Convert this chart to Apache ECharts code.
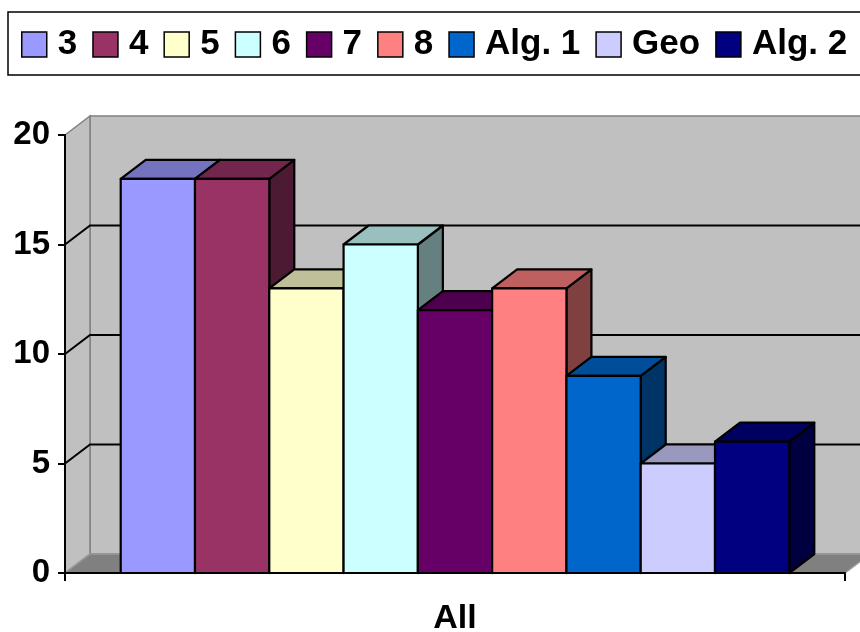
<!DOCTYPE html>
<html>
<head>
<meta charset="utf-8">
<script src="https://cdn.jsdelivr.net/npm/echarts@6/dist/echarts.min.js"></script>
<style>
  html, body { margin: 0; padding: 0; background: #ffffff; }
  #chart { width: 860px; height: 632px; }
</style>
</head>
<body>
<div id="chart"></div>
<script>
// Categories, series and their values
const categories = ['All'];
const seriesNames = ['3', '4', '5', '6', '7', '8', 'Alg. 1', 'Geo', 'Alg. 2'];
const seriesValues = [18, 18, 13, 15, 12, 13, 9, 5, 6];
const seriesColors = ['#9999FF', '#993366', '#FFFFCC', '#CCFFFF', '#660066', '#FF8080', '#0066CC', '#CCCCFF', '#000080'];
const yTicks = [0, 5, 10, 15, 20];

// 3D look: depth offset of the back plane (pixels) and gap between bar groups
const DX = 25, DY = 19;
const GAP_RATIO = 1.5;
const FONT = '"Liberation Sans", Arial, sans-serif';

function shade(hex, k) {
  const n = parseInt(hex.slice(1), 16);
  const r = Math.round(((n >> 16) & 255) * k);
  const g = Math.round(((n >> 8) & 255) * k);
  const b = Math.round((n & 255) * k);
  return 'rgb(' + r + ',' + g + ',' + b + ')';
}

// Back wall, side wall, floor and the gridlines on the walls
function renderWalls(params, api) {
  const cs = params.coordSys;
  const x0 = cs.x, x1 = cs.x + cs.width;
  const yTop = cs.y, yBot = cs.y + cs.height;
  const wallStroke = { stroke: '#808080', lineWidth: 1.5 };
  const children = [
    { type: 'polygon', shape: { points: [[x0 + DX, yTop - DY], [x1 + DX, yTop - DY], [x1 + DX, yBot - DY], [x0 + DX, yBot - DY]] },
      style: Object.assign({ fill: '#C0C0C0' }, wallStroke) },
    { type: 'polygon', shape: { points: [[x0, yTop], [x0 + DX, yTop - DY], [x0 + DX, yBot - DY], [x0, yBot]] },
      style: Object.assign({ fill: '#C0C0C0' }, wallStroke) },
    { type: 'polygon', shape: { points: [[x0, yBot], [x1, yBot], [x1 + DX, yBot - DY], [x0 + DX, yBot - DY]] },
      style: { fill: '#808080', stroke: '#999999', lineWidth: 1.5 } }
  ];
  const lo = yTicks[0], hi = yTicks[yTicks.length - 1];
  yTicks.forEach(function (v) {
    if (v === lo || v === hi) return;
    const y = api.coord([0, v])[1];
    children.push({ type: 'polyline', shape: { points: [[x0, y], [x0 + DX, y - DY], [x1 + DX, y - DY]] },
      style: { stroke: '#000000', lineWidth: 2, fill: null } });
  });
  return { type: 'group', children: children };
}

// One 3D box per series, placed side by side inside the category band
function makeBarRenderer(i) {
  return function (params, api) {
    const top = api.coord([api.value(0), api.value(1)]);
    const base = api.coord([api.value(0), 0]);
    const band = api.size([1, 0])[0];
    const w = band / (seriesValues.length + GAP_RATIO);
    const left = top[0] - band / 2 + w * GAP_RATIO / 2 + w * i;
    const right = left + w;
    const yT = top[1], yB = base[1];
    const c = seriesColors[i];
    const edge = { stroke: '#000000', lineWidth: 2.2, lineJoin: 'round' };
    return {
      type: 'group',
      children: [
        { type: 'polygon', shape: { points: [[right, yT], [right + DX, yT - DY], [right + DX, yB - DY], [right, yB]] },
          style: Object.assign({ fill: shade(c, 0.5) }, edge) },
        { type: 'polygon', shape: { points: [[left, yT], [left + DX, yT - DY], [right + DX, yT - DY], [right, yT]] },
          style: Object.assign({ fill: shade(c, 0.75) }, edge) },
        { type: 'rect', shape: { x: left, y: yT, width: w, height: yB - yT },
          style: Object.assign({ fill: c }, edge) }
      ]
    };
  };
}

const series = [{
  type: 'custom',
  name: 'walls',
  renderItem: renderWalls,
  data: [[categories[0], 0]],
  encode: { x: 0, y: 1 },
  z: 1,
  silent: true
}];
seriesNames.forEach(function (name, i) {
  series.push({
    type: 'custom',
    name: name,
    renderItem: makeBarRenderer(i),
    data: [[categories[0], seriesValues[i]]],
    encode: { x: 0, y: 1 },
    itemStyle: { color: seriesColors[i] },
    clip: false,
    z: 2
  });
});

const chart = echarts.init(document.getElementById('chart'), null, { renderer: 'canvas' });
chart.setOption({
  animation: false,
  backgroundColor: '#ffffff',
  legend: {
    data: seriesNames,
    left: 8,
    top: 12,
    width: 1200,
    orient: 'horizontal',
    icon: 'rect',
    itemWidth: 25,
    itemHeight: 25,
    itemGap: 15,
    padding: [15, 30, 13, 13],
    borderColor: '#000000',
    borderWidth: 1.5,
    selectedMode: false,
    itemStyle: { borderColor: '#000000', borderWidth: 1.5 },
    textStyle: { fontFamily: FONT, fontWeight: 'bold', fontSize: 35, color: '#000000', padding: [3, 0, 0, 6] }
  },
  grid: { left: 65, right: 15, top: 135, bottom: 59, containLabel: false, outerBoundsMode: 'none' },
  xAxis: {
    type: 'category',
    data: categories,
    z: 5,
    axisLine: { lineStyle: { color: '#000000', width: 2 } },
    axisTick: { show: true, length: 8, lineStyle: { color: '#000000', width: 2 } },
    axisLabel: { fontFamily: FONT, fontWeight: 'bold', fontSize: 34, color: '#000000', margin: 29 }
  },
  yAxis: {
    type: 'value',
    min: 0,
    max: 20,
    interval: 5,
    z: 5,
    axisLine: { show: true, lineStyle: { color: '#000000', width: 2 } },
    axisTick: { show: true, length: 7, lineStyle: { color: '#000000', width: 2 } },
    splitLine: { show: false },
    axisLabel: { fontFamily: FONT, fontWeight: 'bold', fontSize: 33, color: '#000000', margin: 15 }
  },
  series: series
});
</script>
</body>
</html>
